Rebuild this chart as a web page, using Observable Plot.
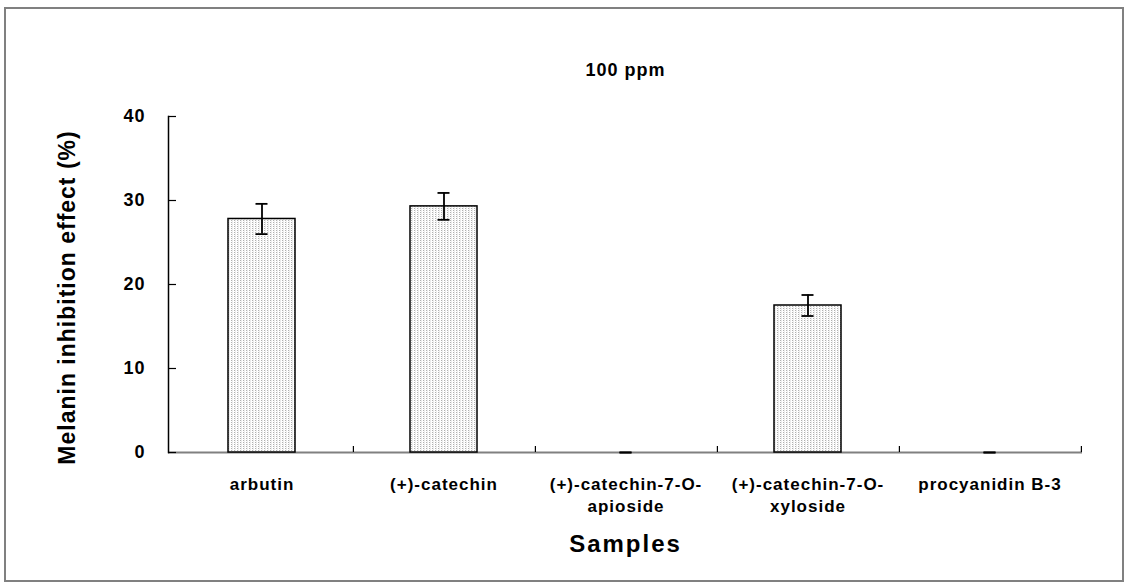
<!DOCTYPE html>
<html>
<head>
<meta charset="utf-8">
<script src="https://cdn.jsdelivr.net/npm/d3@7"></script>
<script src="https://cdn.jsdelivr.net/npm/@observablehq/plot@0.6"></script>
<style>
  html, body { margin: 0; padding: 0; background: #fff; }
  #wrap { position: relative; width: 1125px; height: 586px; }
  #border { position: absolute; left: 4px; top: 7px; width: 1116px; height: 571px;
            border: 2px solid #808080; pointer-events: none; }
  svg { font-family: "Liberation Sans", Arial, sans-serif; font-weight: bold; }
</style>
</head>
<body>
<div id="wrap"><div id="border"></div></div>
<script>
const samples = ["arbutin", "(+)-catechin", "(+)-catechin-7-O-\napioside", "(+)-catechin-7-O-\nxyloside", "procyanidin B-3"];
const inhibition = [27.8, 29.3, 0, 17.5, 0];
const errors = [1.8, 1.6, 0, 1.25, 0];
const yTicks = [0, 10, 20, 30, 40];
const chartTitle = "100 ppm";
const xTitle = "Samples";
const yTitle = "Melanin inhibition effect (%)";

const data = samples.map((s, i) => ({sample: s, v: inhibition[i], e: errors[i]}));

const W = 1125, H = 586, mL = 168, mR = 43, mT = 116, mB = 134;
const frameW = W - mL - mR, frameH = H - mT - mB;
const step = frameW / samples.length;
const pad = 0.634;

const defsMark = () => {
  const ns = "http://www.w3.org/2000/svg";
  const defs = document.createElementNS(ns, "defs");
  const p = document.createElementNS(ns, "pattern");
  p.setAttribute("id", "dots");
  p.setAttribute("patternUnits", "userSpaceOnUse");
  p.setAttribute("width", "3");
  p.setAttribute("height", "2");
  const bg = document.createElementNS(ns, "rect");
  bg.setAttribute("width", "3"); bg.setAttribute("height", "2"); bg.setAttribute("fill", "#ffffff");
  const d = document.createElementNS(ns, "rect");
  d.setAttribute("width", "1"); d.setAttribute("height", "1"); d.setAttribute("fill", "#b0b0b0");
  const d2 = document.createElementNS(ns, "rect");
  d2.setAttribute("x", "1"); d2.setAttribute("width", "1"); d2.setAttribute("height", "2"); d2.setAttribute("fill", "#ececec");
  p.appendChild(bg); p.appendChild(d2); p.appendChild(d);
  defs.appendChild(p);
  return defs;
};

const chart = Plot.plot({
  width: W, height: H,
  marginLeft: mL, marginRight: mR, marginTop: mT, marginBottom: mB,
  style: {fontFamily: '"Liberation Sans", Arial, sans-serif', fontWeight: "bold", color: "#000", background: "transparent"},
  x: {domain: samples, paddingInner: pad, paddingOuter: pad / 2, label: null},
  y: {domain: [0, 40], label: null},
  marks: [
    defsMark,
    Plot.ruleY([0], {stroke: "#808080", strokeWidth: 2}),
    Plot.frame({anchor: "left", stroke: "#000", strokeWidth: 1.5}),
    Plot.tickY(yTicks, {y: d => d, stroke: "#000", strokeWidth: 1.2, insetRight: frameW - 8}),
    Plot.tickX(samples, {x: d => d, dx: step / 2, stroke: "#000", strokeWidth: 1.2, insetTop: frameH - 6}),
    Plot.barY(data, {x: "sample", y: "v", fill: "url(#dots)", stroke: "#000", strokeWidth: 1.5, filter: d => d.v > 0}),
    Plot.ruleX(data, {x: "sample", y1: d => d.v - d.e, y2: d => d.v + d.e, stroke: "#000", strokeWidth: 1.8}),
    Plot.tickY(data, {x: "sample", y: d => d.v + d.e, stroke: "#000", strokeWidth: 1.8, insetLeft: 27.5, insetRight: 27.5}),
    Plot.tickY(data, {x: "sample", y: d => d.v - d.e, stroke: "#000", strokeWidth: 1.8, insetLeft: 27.5, insetRight: 27.5}),
    Plot.axisY({ticks: yTicks, tickSize: 0, tickPadding: 23, fontSize: 18, label: null}),
    Plot.axisX({tickSize: 0, tickPadding: 22, fontSize: 17, lineHeight: 1.3, label: null}),
    Plot.text([chartTitle], {frameAnchor: "top", dy: -53, fontSize: 18, fontWeight: "bold", fill: "#000"}),
    Plot.text([xTitle], {frameAnchor: "bottom", dy: 99, fontSize: 24, fontWeight: "bold", fill: "#000", className: "wide"}),
    Plot.text([yTitle], {frameAnchor: "left", textAnchor: "middle", dx: -101, dy: 13, rotate: -90, fontSize: 23, fontWeight: "bold", fill: "#000"})
  ]
});
chart.querySelectorAll("text").forEach(t => t.style.letterSpacing = "1px");
chart.querySelectorAll(".wide text").forEach(t => t.style.letterSpacing = "2px");
document.getElementById("wrap").insertBefore(chart, document.getElementById("border"));
</script>
</body>
</html>
